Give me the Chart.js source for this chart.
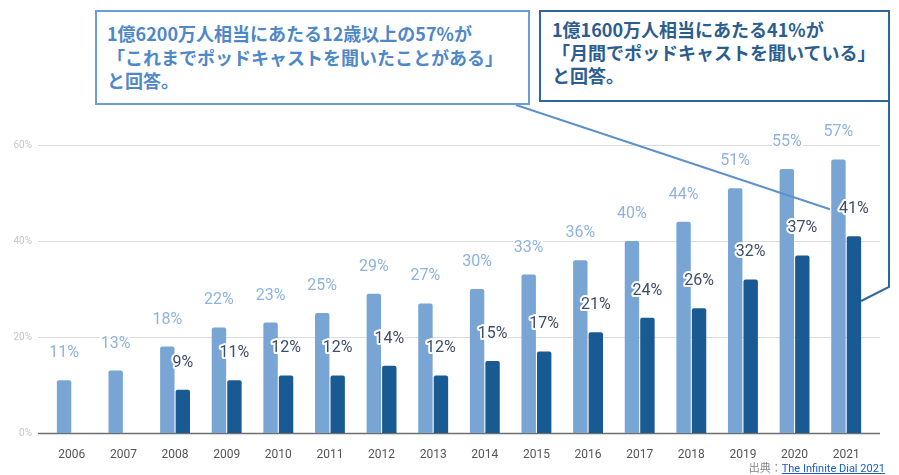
<!DOCTYPE html>
<html><head><meta charset="utf-8">
<script src="https://cdn.jsdelivr.net/npm/chart.js@4/dist/chart.umd.min.js"></script>
<style>
html,body{margin:0;padding:0;background:#fff;}
#wrap{position:relative;width:899px;height:475px;overflow:hidden;}
canvas{position:absolute;left:0;top:0;}
.box{position:absolute;background:#fff;box-sizing:border-box;font-family:"Noto Sans CJK JP","Noto Sans",sans-serif;font-weight:700;font-size:18px;line-height:23.5px;white-space:nowrap;}
#b1{left:95px;top:10px;width:435px;height:95px;border:2px solid #6c9dd2;color:#4f88c8;padding:10px 0 0 10px;}
#b2{left:539px;top:10px;width:351px;height:92px;border:2px solid #2f6597;color:#2b5d90;padding:6px 0 0 11px;line-height:23px;}
#src{position:absolute;right:14px;top:459px;font-family:Roboto,"Noto Sans CJK JP",sans-serif;font-size:11px;color:#888;}
#src a{color:#1a5ccc;text-decoration:underline;}
</style></head>
<body>
<div id="wrap">
<canvas id="c" width="899" height="475"></canvas>
<div class="box" id="b1">1億6200万人相当にあたる12歳以上の57%が<br>「これまでポッドキャストを聞いたことがある」<br>と回答。</div>
<div class="box" id="b2">1億1600万人相当にあたる41%が<br>「月間でポッドキャストを聞いている」<br>と回答。</div>
<div id="src">出典：<a href="#">The Infinite Dial 2021</a></div>
</div>
<script>
const years = ['2006','2007','2008','2009','2010','2011','2012','2013','2014','2015','2016','2017','2018','2019','2020','2021'];
const everListened = [11,13,18,22,23,25,29,27,30,33,36,40,44,51,55,57];
const monthlyListened = [null,null,9,11,12,12,14,12,15,17,21,24,26,32,37,41];
const yTicks = [0,20,40,60];

const gridPlugin = {
  id:'grid',
  beforeDatasetsDraw(chart){
    const ctx = chart.ctx, a = chart.chartArea, ys = chart.scales.y;
    ctx.save();
    yTicks.forEach(v=>{
      const y = Math.round(ys.getPixelForValue(v)) + 0.5;
      ctx.beginPath();
      ctx.strokeStyle = v===0 ? '#6f6f6f' : '#dcdcdc';
      ctx.lineWidth = v===0 ? 1.5 : 1;
      ctx.moveTo(a.left-8, y); ctx.lineTo(a.right+8, y); ctx.stroke();
    });
    ctx.restore();
  }
};

const connectorPlugin = {
  id:'connectors',
  afterDatasetsDraw(chart){
    const ctx = chart.ctx;
    const last = years.length-1;
    const dark = chart.getDatasetMeta(1).data[last];
    ctx.save();
    ctx.lineWidth = 2;
    // callout 1 -> 41% label
    ctx.strokeStyle = '#5e92cb';
    ctx.beginPath();
    ctx.moveTo(516,105);
    ctx.lineTo(dark.x-24, dark.y-27);
    ctx.stroke();
    // callout 2 -> dark 2021 bar
    ctx.strokeStyle = '#2f6597';
    ctx.beginPath();
    ctx.moveTo(889,101);
    ctx.lineTo(889,287);
    ctx.lineTo(dark.x + dark.width/2, chart.scales.y.getPixelForValue(27.5));
    ctx.stroke();
    ctx.restore();
  }
};

const labelPlugin = {
  id:'labels',
  afterDatasetsDraw(chart){
    const ctx = chart.ctx;
    const colors = ['#8fb3de','#3e4d68'];
    ctx.save();
    ctx.font = '16px Roboto';
    ctx.textAlign = 'center';
    ctx.textBaseline = 'middle';
    ctx.lineJoin = 'round';
    chart.data.datasets.forEach((ds,i)=>{
      chart.getDatasetMeta(i).data.forEach((bar,j)=>{
        const v = ds.data[j];
        if(v===null||v===undefined) return;
        const t = v+'%';
        ctx.strokeStyle = '#fff'; ctx.lineWidth = 4;
        ctx.strokeText(t, bar.x, bar.y-27);
        ctx.fillStyle = colors[i];
        ctx.fillText(t, bar.x, bar.y-27);
      });
    });
    ctx.restore();
  }
};

new Chart(document.getElementById('c'), {
  type:'bar',
  data:{
    labels: years,
    datasets:[
      {label:'ever', data: everListened, backgroundColor:'#78a5d4', borderRadius:{topLeft:2,topRight:2}, borderSkipped:'bottom', categoryPercentage:0.6, barPercentage:0.93},
      {label:'monthly', data: monthlyListened, backgroundColor:'#1a5a93', borderRadius:{topLeft:2,topRight:2}, borderSkipped:'bottom', categoryPercentage:0.6, barPercentage:0.93}
    ]
  },
  options:{
    responsive:false, animation:false, devicePixelRatio:1,
    layout:{padding:{top:145,right:27,left:0,bottom:0}},
    plugins:{legend:{display:false}, tooltip:{enabled:false}},
    scales:{
      x:{
        grid:{display:false}, border:{display:false},
        ticks:{color:'#555', font:{family:'Roboto', size:12}, padding:7, maxRotation:0},
        afterFit(s){ s.height = 42; }
      },
      y:{
        min:0, max:60,
        grid:{display:false, drawTicks:false}, border:{display:false},
        ticks:{stepSize:20, color:'#c6c6c6', font:{family:'Roboto', size:10}, padding:14, callback:v=>v+'%'},
        afterFit(s){ s.width = 46; }
      }
    }
  },
  plugins:[gridPlugin, connectorPlugin, labelPlugin]
});
</script>
</body></html>
